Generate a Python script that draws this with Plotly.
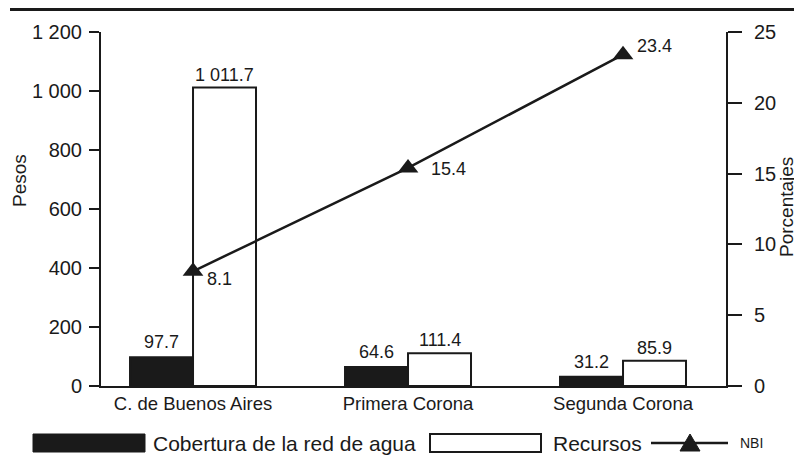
import plotly.graph_objects as go

categories = ["C. de Buenos Aires", "Primera Corona", "Segunda Corona"]
cobertura = [97.7, 64.6, 31.2]
recursos = [1011.7, 111.4, 85.9]
nbi = [8.1, 15.4, 23.4]
pesos_ticks = [0, 200, 400, 600, 800, 1000, 1200]
pesos_labels = ["0", "200", "400", "600", "800", "1 000", "1 200"]
pct_ticks = [0, 5, 10, 15, 20, 25]

def fmt(v):
    s = f"{v:,.1f}"
    return s.replace(",", " ")

FONT = "Liberation Sans, Arial, Helvetica, sans-serif"
INK = "#1a1a1a"
# page body has an 8px margin: figure placed at (8, 8) in the window
OFF = 8
W, H = 802 - OFF, 467 - OFF
PL, PR, PT, PB = 101, 726, 32, 386          # plot area in window pixels
L, T = PL - OFF, PT - OFF
R, B = W - (PR - OFF), H - (PB - OFF)
PW, PH = PR - PL, PB - PT

def px(x):
    return (x - PL) / PW

def py(y):
    return (PB - y) / PH

xpos = [0, 1, 2]

fig = go.Figure()
fig.add_trace(go.Bar(x=xpos, y=cobertura, name="Cobertura de la red de agua",
                     marker=dict(color=INK, line=dict(color=INK, width=2)),
                     showlegend=False))
fig.add_trace(go.Bar(x=xpos, y=recursos, name="Recursos",
                     marker=dict(color="white", line=dict(color=INK, width=2)),
                     showlegend=False))
fig.add_trace(go.Scatter(x=xpos, y=nbi, name="NBI", yaxis="y2", mode="lines+markers",
                         line=dict(color=INK, width=2.5),
                         marker=dict(symbol="triangle-up", size=18, color=INK),
                         showlegend=False))

ann = []
bw = 0.293
for i in range(3):
    ann.append(dict(x=xpos[i] - bw / 2, y=cobertura[i], xref="x", yref="y", text=fmt(cobertura[i]),
                    showarrow=False, xanchor="center", yanchor="bottom", yshift=3,
                    font=dict(family=FONT, size=18, color=INK)))
    ann.append(dict(x=xpos[i] + bw / 2, y=recursos[i], xref="x", yref="y", text=fmt(recursos[i]),
                    showarrow=False, xanchor="center", yanchor="bottom", yshift=1,
                    font=dict(family=FONT, size=18, color=INK)))

nbi_dx = [12, 21, 12]
nbi_dy = [-8, -1, 9]
for i in range(3):
    ann.append(dict(x=xpos[i], y=nbi[i], xref="x", yref="y2", text=fmt(nbi[i]),
                    showarrow=False, xanchor="left", yanchor="middle",
                    xshift=nbi_dx[i], yshift=nbi_dy[i],
                    font=dict(family=FONT, size=18, color=INK)))

# axis titles
ann.append(dict(x=px(20), y=py(181), xref="paper", yref="paper", text="Pesos", textangle=-90,
                showarrow=False, xanchor="center", yanchor="middle", borderpad=0,
                font=dict(family=FONT, size=19, color=INK)))
ann.append(dict(x=px(786), y=py(207), xref="paper", yref="paper", text="Porcentajes", textangle=-90,
                showarrow=False, xanchor="center", yanchor="middle", borderpad=0,
                font=dict(family=FONT, size=19, color=INK)))

# legend texts
ann.append(dict(x=px(151), y=py(443), xref="paper", yref="paper", text="Cobertura de la red de agua",
                showarrow=False, xanchor="left", yanchor="middle",
                font=dict(family=FONT, size=21, color=INK)))
ann.append(dict(x=px(551), y=py(443), xref="paper", yref="paper", text="Recursos",
                showarrow=False, xanchor="left", yanchor="middle",
                font=dict(family=FONT, size=21, color=INK)))
ann.append(dict(x=px(738), y=py(443), xref="paper", yref="paper", text="NBI",
                showarrow=False, xanchor="left", yanchor="middle",
                font=dict(family=FONT, size=14, color=INK)))

shapes = [
    dict(type="line", xref="paper", yref="paper", x0=px(10), x1=px(805), y0=py(9.5), y1=py(9.5),
         line=dict(color=INK, width=3)),
    dict(type="rect", xref="paper", yref="paper", x0=px(33), x1=px(145), y0=py(452), y1=py(434),
         fillcolor=INK, line=dict(color=INK, width=1)),
    dict(type="rect", xref="paper", yref="paper", x0=px(430), x1=px(541), y0=py(452), y1=py(434),
         fillcolor="white", line=dict(color=INK, width=2)),
    dict(type="line", xref="paper", yref="paper", x0=px(651), x1=px(728), y0=py(443), y1=py(443),
         line=dict(color=INK, width=2.5)),
    dict(type="path", xref="paper", yref="paper",
         path=f"M {px(680)},{py(451)} L {px(700)},{py(451)} L {px(690)},{py(434)} Z",
         fillcolor=INK, line=dict(color=INK, width=1)),
]

fig.update_layout(
    width=W, height=H,
    margin=dict(l=L, r=R, t=T, b=B, pad=0),
    paper_bgcolor="white", plot_bgcolor="white",
    barmode="group", bargap=0.414, bargroupgap=0,
    font=dict(family=FONT, size=18, color=INK),
    xaxis=dict(range=[-0.428, 2.479], tickvals=xpos, ticktext=categories, showline=True,
               linecolor=INK, linewidth=2, ticks="", showgrid=False, zeroline=False,
               tickfont=dict(size=18.5), fixedrange=True),
    yaxis=dict(range=[0, 1200], tickvals=pesos_ticks, ticktext=pesos_labels, showline=True,
               linecolor=INK, linewidth=2, ticks="outside", ticklen=10, tickwidth=2,
               tickcolor=INK, showgrid=False, zeroline=False, tickfont=dict(size=20),
               ticklabelstandoff=3),
    yaxis2=dict(range=[0, 25], tickvals=pct_ticks, overlaying="y", side="right", showline=True,
                linecolor=INK, linewidth=2, ticks="outside", ticklen=14, tickwidth=2,
                tickcolor=INK, showgrid=False, zeroline=False, tickfont=dict(size=20),
                ticklabelstandoff=8),
    annotations=ann,
    shapes=shapes,
    showlegend=False,
)

fig.write_html("out.html")
